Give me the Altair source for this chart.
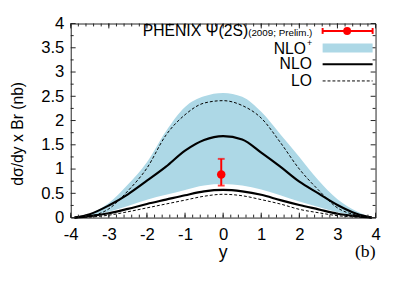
import altair as alt
import pandas as pd

# ---- data ----
xs = [-3.9, -3.5, -3.0, -2.5, -2.0, -1.5, -1.0, -0.5, 0.0, 0.5, 1.0, 1.5, 2.0, 2.5, 3.0, 3.5, 3.9]
band_hi = [0, 0.08, 0.30, 0.68, 1.14, 1.78, 2.28, 2.50, 2.57, 2.49, 2.18, 1.72, 1.25, 0.77, 0.38, 0.13, 0]
band_lo = [0, 0.04, 0.12, 0.24, 0.37, 0.47, 0.57, 0.66, 0.69, 0.66, 0.58, 0.46, 0.33, 0.22, 0.11, 0.04, 0]
nlo_hi = [0, 0.07, 0.25, 0.48, 0.76, 1.05, 1.38, 1.60, 1.68, 1.61, 1.34, 1.05, 0.74, 0.50, 0.26, 0.08, 0]
nlo_lo = [0, 0.03, 0.09, 0.18, 0.28, 0.37, 0.46, 0.54, 0.57, 0.54, 0.47, 0.36, 0.26, 0.17, 0.08, 0.03, 0]
lo_hi = [0, 0.03, 0.18, 0.55, 1.02, 1.70, 2.12, 2.36, 2.41, 2.31, 2.05, 1.55, 1.00, 0.57, 0.20, 0.05, 0]
lo_lo = [0, 0.01, 0.05, 0.12, 0.20, 0.28, 0.36, 0.44, 0.48, 0.45, 0.37, 0.28, 0.17, 0.10, 0.04, 0.01, 0]

pt_x = [-0.05]
pt_y = [0.89]
pt_lo = [0.66]
pt_hi = [1.21]

x_major = [-4, -3, -2, -1, 0, 1, 2, 3, 4]
x_minor = [round(-4 + 0.2 * i, 2) for i in range(41)]
y_major = [0, 0.5, 1, 1.5, 2, 2.5, 3, 3.5, 4]
y_minor = [0.25, 0.75, 1.25, 1.75, 2.25, 2.75, 3.25, 3.75]

W, H = 311, 198
FONT = "Liberation Sans"

curves = pd.DataFrame({"x": xs, "bhi": band_hi, "blo": band_lo,
                       "nhi": nlo_hi, "nlo": nlo_lo, "lhi": lo_hi, "llo": lo_lo})
pts = pd.DataFrame({"x": pt_x, "y": pt_y, "lo": pt_lo, "hi": pt_hi})

xsc = alt.Scale(domain=[-4, 4], nice=False, zero=False)
ysc = alt.Scale(domain=[0, 4], nice=False)

xax = alt.Axis(values=x_major, labelExpr="datum.value", ticks=False, domain=False, grid=False,
               labelFontSize=17, labelFont=FONT, labelColor="black", labelPadding=9,
               labelFlush=False, title="y", titleFont=FONT, titleFontSize=18,
               titleFontWeight="normal", titleColor="black", titleX=155, titleY=41,
               titleBaseline="alphabetic")
yax = alt.Axis(values=y_major, labelExpr="datum.value", ticks=False, domain=False, grid=False,
               labelFontSize=17, labelFont=FONT, labelColor="black", labelPadding=7,
               labelFlush=False, title="dσ/dy x Br (nb)", titleFont=FONT, titleFontSize=16,
               titleFontWeight="normal", titleColor="black", titleAngle=270,
               titleX=-54, titleY=112, titleAlign="center", titleBaseline="middle")

X = lambda f: alt.X(f, scale=xsc, axis=xax)
Y = lambda f: alt.Y(f, scale=ysc, axis=yax)

base = alt.Chart(curves)
band = base.mark_area(color="#add8e6", interpolate="monotone", opacity=1).encode(
    x=X("x:Q"), y=Y("bhi:Q"), y2="blo:Q")

def line(field, width, dash=None):
    kw = dict(color="black", strokeWidth=width, interpolate="monotone")
    if dash:
        kw["strokeDash"] = dash
    return base.mark_line(**kw).encode(x=X("x:Q"), y=Y(f"{field}:Q"))

lines = [line("lhi", 1, [3, 2]), line("llo", 1, [3, 2]), line("nhi", 2.2), line("nlo", 2.2)]

pbase = alt.Chart(pts)
err = pbase.mark_rule(color="red", strokeWidth=2).encode(x=X("x:Q"), y=Y("lo:Q"), y2="hi:Q")
cap_lo = pbase.mark_tick(color="red", thickness=2, size=7, orient="horizontal").encode(
    x=X("x:Q"), y=Y("lo:Q"))
cap_hi = pbase.mark_tick(color="red", thickness=2, size=7, orient="horizontal").encode(
    x=X("x:Q"), y=Y("hi:Q"))
dot = pbase.mark_circle(color="red", size=75, opacity=1).encode(x=X("x:Q"), y=Y("y:Q"))

# inward ticks on all four sides
def xticks(vals, length):
    d = alt.Chart(pd.DataFrame({"t": vals}))
    bot = d.mark_rule(color="#222", strokeWidth=1).encode(
        x=X("t:Q"), y=alt.value(H), y2=alt.value(H - length))
    top = d.mark_rule(color="#222", strokeWidth=1).encode(
        x=X("t:Q"), y=alt.value(0), y2=alt.value(length))
    return [bot, top]

def yticks(vals, length):
    d = alt.Chart(pd.DataFrame({"t": vals}))
    lft = d.mark_rule(color="#222", strokeWidth=1).encode(
        y=Y("t:Q"), x=alt.value(0), x2=alt.value(length))
    rgt = d.mark_rule(color="#222", strokeWidth=1).encode(
        y=Y("t:Q"), x=alt.value(W), x2=alt.value(W - length))
    return [lft, rgt]

ticks = xticks(x_major, 5) + xticks(x_minor, 3) + yticks(y_major, 5) + yticks(y_minor, 3)

# legend
one = alt.Chart(pd.DataFrame({"a": [0]}))

def txt(s, x, y, size, align="right", baseline="middle", font=FONT):
    return one.mark_text(text=s, fontSize=size, font=font, align=align, baseline=baseline,
                         color="black").encode(x=alt.value(x), y=alt.value(y))

r1, r2, r3, r4 = 7.6, 25.5, 41.6, 58.6
lx0, lx1 = 257, 308
legend = [
    txt("PHENIX Ψ(2S)", 181, r1, 16),
    txt("(2009; Prelim.)", 181, r1 + 2.5, 10, align="left"),
    one.mark_rule(color="red", strokeWidth=2).encode(x=alt.value(lx0), x2=alt.value(lx1), y=alt.value(r1)),
    one.mark_rule(color="red", strokeWidth=2).encode(x=alt.value(lx0), y=alt.value(r1 - 3), y2=alt.value(r1 + 3)),
    one.mark_rule(color="red", strokeWidth=2).encode(x=alt.value(lx1), y=alt.value(r1 - 3), y2=alt.value(r1 + 3)),
    one.mark_circle(color="red", size=65, opacity=1).encode(x=alt.value(282), y=alt.value(r1)),
    txt("NLO", 240, r2 + 0.5, 16),
    txt("+", 241, r2 - 5.5, 9, align="left", baseline="middle"),
    one.mark_rect(color="#add8e6").encode(x=alt.value(lx0), x2=alt.value(lx1),
                                          y=alt.value(r2 - 5), y2=alt.value(r2 + 4)),
    txt("NLO", 246, r3, 16),
    one.mark_rule(color="black", strokeWidth=2.2).encode(x=alt.value(lx0), x2=alt.value(lx1), y=alt.value(r3)),
    txt("LO", 246, r4, 16),
    one.mark_rule(color="black", strokeWidth=1, strokeDash=[3, 2]).encode(
        x=alt.value(lx0), x2=alt.value(lx1), y=alt.value(r4)),
    txt("(b)", 311, 238.5, 18, baseline="alphabetic", font="Liberation Serif"),
]

chart = alt.layer(band, *lines, err, cap_lo, cap_hi, dot, *ticks, *legend).properties(
    width=W, height=H,
    autosize=alt.AutoSizeParams(type="none"),
    padding={"left": 64, "top": 13, "right": 28, "bottom": 68},
).configure_view(stroke="#222", strokeWidth=1)

chart.save("out.html", embed_options={"renderer": "svg", "actions": False})
